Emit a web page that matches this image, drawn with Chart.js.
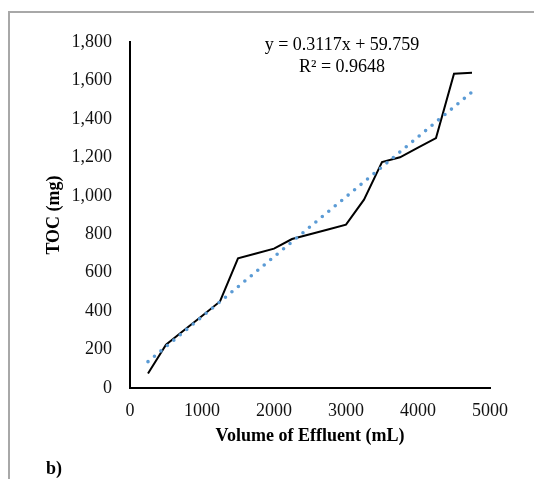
<!DOCTYPE html>
<html>
<head>
<meta charset="utf-8">
<script src="https://cdn.jsdelivr.net/npm/chart.js@4.4.1/dist/chart.umd.min.js"></script>
<style>
html,body{margin:0;padding:0;background:#fff;}
#wrap{position:relative;width:534px;height:479px;overflow:hidden;background:#fff;}
#frame{position:absolute;left:8px;top:11px;width:600px;height:600px;border-left:2px solid #a8a8a8;border-top:2px solid #a8a8a8;}
canvas{position:absolute;left:0;top:0;}
</style>
</head>
<body>
<div id="wrap"><div id="frame"></div><canvas id="c" width="534" height="479"></canvas></div>
<script>
// Volume of effluent (mL)
const volumes = [250, 500, 750, 1000, 1250, 1500, 1750, 2000, 2250, 2500, 2750, 3000, 3250, 3500, 3750, 4000, 4250, 4500, 4750];
// TOC (mg)
const tocValues = [75, 225, 300, 375, 450, 675, 700, 725, 775, 800, 825, 850, 980, 1175, 1200, 1250, 1300, 1635, 1640];
// Linear trendline end points
const trendX = [250, 4750];
const trendY = [137, 1540];
const equationLines = ['y = 0.3117x + 59.759', 'R\u00B2 = 0.9648'];
const panelLabel = 'b)';
const xTickRange = [0, 5000, 1000];
const yTickRange = [0, 1800, 200];
const xTitle = 'Volume of Effluent (mL)';
const yTitle = 'TOC (mg)';

const SERIF = '"Liberation Serif", "Times New Roman", serif';

const textPlugin = {
  id: 'annot',
  afterDraw(chart) {
    const ctx = chart.ctx;
    ctx.save();
    ctx.fillStyle = '#000';
    ctx.font = '18px ' + SERIF;
    ctx.textAlign = 'center';
    ctx.textBaseline = 'alphabetic';
    ctx.fillText(equationLines[0], 342, 50);
    ctx.fillText(equationLines[1], 342, 71.5);
    ctx.font = 'bold 18px ' + SERIF;
    ctx.textAlign = 'left';
    ctx.fillText(panelLabel, 46, 474);
    ctx.restore();
  }
};

new Chart(document.getElementById('c'), {
  type: 'line',
  data: {
    datasets: [
      {
        label: 'Linear trend',
        data: trendX.map((x, i) => ({x: x, y: trendY[i]})),
        borderColor: '#5B9BD5',
        borderWidth: 3.6,
        borderDash: [0, 8.4],
        borderCapStyle: 'round',
        pointRadius: 0,
        fill: false,
        tension: 0
      },
      {
        label: 'TOC',
        data: volumes.map((x, i) => ({x: x, y: tocValues[i]})),
        borderColor: '#000',
        borderWidth: 2,
        pointRadius: 0,
        fill: false,
        tension: 0,
        borderJoinStyle: 'miter'
      }
    ]
  },
  options: {
    responsive: false,
    animation: false,
    devicePixelRatio: 1,
    layout: {padding: {left: 0, right: 44, top: 42, bottom: 0}},
    plugins: {legend: {display: false}, tooltip: {enabled: false}},
    scales: {
      x: {
        type: 'linear',
        min: xTickRange[0], max: xTickRange[1],
        afterFit: s => { s.height = 91; },
        ticks: {stepSize: xTickRange[2], color: '#111', font: {family: SERIF, size: 18}, padding: 12, callback: v => String(v), maxRotation: 0},
        grid: {display: false, drawTicks: false, tickLength: 0},
        border: {display: true, color: '#000', width: 2},
        title: {display: true, text: xTitle, color: '#000', font: {family: SERIF, size: 18, weight: 'bold'}, padding: {top: 0, bottom: 31.7}}
      },
      y: {
        type: 'linear',
        min: yTickRange[0], max: yTickRange[1],
        afterFit: s => { s.width = 130; },
        ticks: {stepSize: yTickRange[2], color: '#111', font: {family: SERIF, size: 18}, padding: 18, callback: v => v.toLocaleString('en-US')},
        grid: {display: false, drawTicks: false, tickLength: 0},
        border: {display: true, color: '#000', width: 2},
        title: {display: true, text: yTitle, color: '#000', font: {family: SERIF, size: 18, weight: 'bold'}, padding: {top: 44, bottom: 0}}
      }
    }
  },
  plugins: [textPlugin]
});
</script>
</body>
</html>
